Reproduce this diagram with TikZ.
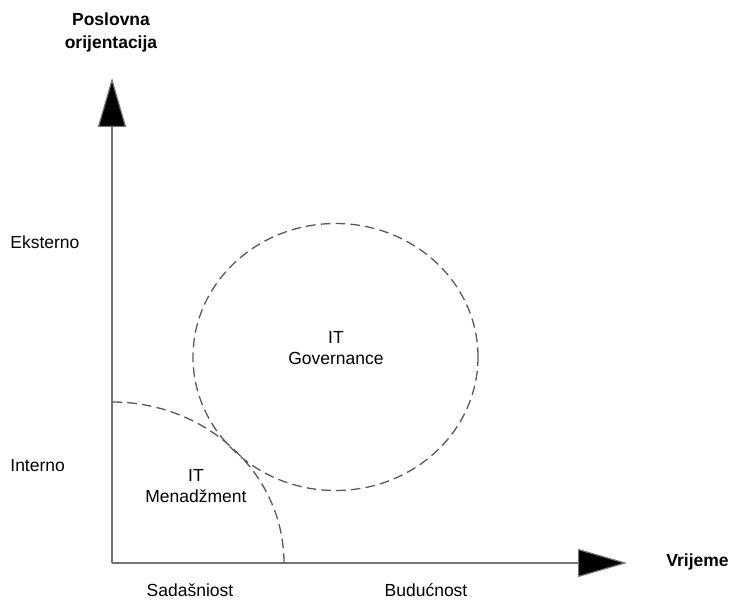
\documentclass[tikz,border=0pt]{standalone}
\usepackage{fontspec}
\setmainfont{Liberation Sans}
\usetikzlibrary{arrows.meta}

\begin{document}
\begin{tikzpicture}[x=0.5pt,y=0.5pt,
  lbl/.style={font=\fontsize{8.75}{10.5}\selectfont,align=center,inner sep=0pt},
  axis/.style={draw=black!55,line width=0.6pt,-{Triangle[length=24.5pt,width=14pt,fill=black]}},
  zone/.style={draw=black!65,line width=0.65pt,dash pattern=on 4.8pt off 2.6pt}]
\useasboundingbox (-112,-36) rectangle (619,563);
% Draw axes
\coordinate (O) at (0,0);
\coordinate (ytip) at (0,485);
\coordinate (xtip) at (515,0);
\draw[axis] (O)--(ytip);
\draw[axis] (O)--(xtip);
% Draw zones
\draw[zone] (172,0) arc[start angle=0,end angle=90,x radius=172,y radius=161];
\draw[zone] (223.5,206) ellipse[x radius=142.5,y radius=133.5];
% Draw nodes
\node[lbl,font=\fontsize{8.75}{11.5}\selectfont\bfseries] (poslovna) at (-1,531) {Poslovna\\orijentacija};
\node[lbl,anchor=west] (eksterno) at (-102,321) {Eksterno};
\node[lbl,anchor=west] (interno) at (-102,97) {Interno};
\node[lbl] (menadzment) at (84,77) {IT\\Menadžment};
\node[lbl] (governance) at (224,215) {IT\\Governance};
\node[lbl] (sadasnjost) at (78,-27) {Sadašniost};
\node[lbl] (buducnost) at (314,-27) {Budućnost};
\node[lbl,anchor=west,font=\fontsize{8.75}{10.5}\selectfont\bfseries] (vrijeme) at (554,1) {Vrijeme};
\end{tikzpicture}
\end{document}
